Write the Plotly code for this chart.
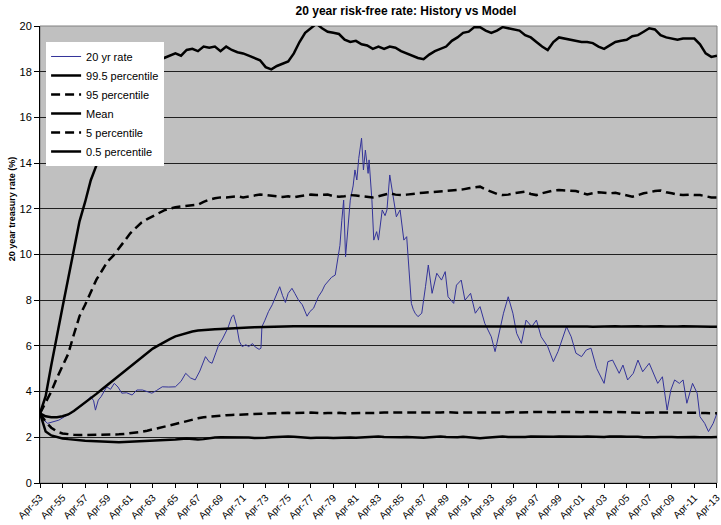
import plotly.graph_objects as go

# 20 yr treasury rate (month, %)
rate_dates = [
    "1953-04", "1953-07", "1953-12", "1954-07", "1954-12", "1955-06", "1956-01", "1956-06", "1956-11", "1957-04",
    "1957-10", "1958-01", "1958-03", "1958-06", "1958-09", "1959-03", "1959-07", "1959-11", "1960-03", "1960-07",
    "1960-12", "1961-06", "1961-11", "1962-05", "1962-10", "1963-03", "1963-08", "1964-02", "1964-09", "1965-04",
    "1965-10", "1966-03", "1966-08", "1967-01", "1967-06", "1967-12", "1968-04", "1968-07", "1968-11", "1969-02",
    "1969-06", "1969-09", "1969-12", "1970-04", "1970-06", "1970-09", "1970-12", "1971-03", "1971-07", "1971-10",
    "1972-02", "1972-05", "1972-09", "1972-11", "1972-12", "1973-03", "1973-07", "1973-11", "1974-03", "1974-07",
    "1974-10", "1975-01", "1975-04", "1975-08", "1975-11", "1976-03", "1976-07", "1976-12", "1977-03", "1977-07",
    "1977-12", "1978-04", "1978-07", "1978-10", "1979-02", "1979-06", "1979-09", "1979-11", "1980-01", "1980-03",
    "1980-05", "1980-07", "1980-10", "1981-01", "1981-03", "1981-05", "1981-07", "1981-10", "1981-12", "1982-02",
    "1982-05", "1982-06", "1982-09", "1982-11", "1983-02", "1983-04", "1983-08", "1983-11", "1984-01", "1984-04",
    "1984-08", "1984-11", "1985-03", "1985-07", "1985-10", "1985-12", "1986-03", "1986-05", "1986-07", "1986-10",
    "1987-02", "1987-06", "1987-09", "1988-01", "1988-06", "1988-11", "1989-03", "1989-06", "1989-12", "1990-03",
    "1990-08", "1990-12", "1991-06", "1991-11", "1992-04", "1992-09", "1993-04", "1993-08", "1993-11", "1994-05",
    "1994-10", "1995-03", "1995-07", "1995-12", "1996-05", "1996-11", "1997-04", "1997-09", "1998-04", "1998-10",
    "1999-03", "1999-07", "1999-12", "2000-05", "2000-10", "2001-04", "2001-09", "2002-02", "2002-08", "2003-04",
    "2003-08", "2004-01", "2004-08", "2004-12", "2005-05", "2005-11", "2006-04", "2006-09", "2007-04", "2008-01",
    "2008-06", "2008-11", "2009-03", "2009-07", "2009-12", "2010-04", "2010-08", "2011-02", "2011-07", "2011-10",
    "2012-03", "2012-07", "2012-12", "2013-04",
]
rate_values = [
    3.05, 2.8, 2.61, 2.68, 2.75, 2.9, 3.05, 3.2, 3.34, 3.5,
    3.78, 3.6, 3.19, 3.63, 3.78, 4.21, 4.1, 4.36, 4.2, 3.93,
    3.95, 3.85, 4.07, 4.07, 4.0, 3.93, 4.05, 4.21, 4.2, 4.21,
    4.45, 4.8, 4.6, 4.51, 4.9, 5.53, 5.3, 5.24, 5.7, 6.05,
    6.3, 6.55, 6.8, 7.28, 7.35, 6.9, 6.2, 5.97, 6.05, 5.97,
    6.1, 5.95, 5.85, 5.9, 6.84, 7.1, 7.5, 7.8, 8.2, 8.59,
    8.2, 7.9, 8.3, 8.52, 8.3, 8.0, 7.8, 7.3, 7.5, 7.65,
    8.15, 8.4, 8.66, 8.8, 9.0, 9.1, 10.0, 10.4, 11.5, 12.38,
    9.9, 11.0, 12.38, 13.0, 13.7, 13.26, 14.2, 15.09, 13.7, 14.57,
    13.55, 14.14, 12.38, 10.63, 11.0, 10.63, 11.95, 11.7, 11.95, 13.48,
    12.53, 11.65, 11.95, 10.63, 10.78, 9.61, 7.86, 7.6, 7.43, 7.28,
    7.43, 8.59, 9.54, 8.3, 9.18, 8.88, 9.25, 8.15, 7.86, 8.66,
    8.88, 8.0, 8.3, 7.43, 7.72, 6.99, 6.4, 5.75, 6.33, 7.43,
    8.15, 7.43, 6.55, 6.11, 7.13, 6.84, 7.13, 6.4, 5.97, 5.31,
    5.75, 6.26, 6.84, 6.4, 5.68, 5.53, 5.82, 5.9, 5.02, 4.36,
    5.31, 5.38, 4.8, 5.16, 4.51, 4.8, 5.38, 4.87, 5.24, 4.36,
    4.65, 3.19, 4.07, 4.51, 4.36, 4.51, 3.49, 4.36, 3.93, 2.9,
    2.61, 2.25, 2.61, 3.05,
]

# model percentiles, every six months
model_dates = [
    "1953-04", "1953-10", "1954-04", "1954-10", "1955-04", "1955-10", "1956-04", "1956-10", "1957-04", "1957-10",
    "1958-04", "1958-10", "1959-04", "1959-10", "1960-04", "1960-10", "1961-04", "1961-10", "1962-04", "1962-10",
    "1963-04", "1963-10", "1964-04", "1964-10", "1965-04", "1965-10", "1966-04", "1966-10", "1967-04", "1967-10",
    "1968-04", "1968-10", "1969-04", "1969-10", "1970-04", "1970-10", "1971-04", "1971-10", "1972-04", "1972-10",
    "1973-04", "1973-10", "1974-04", "1974-10", "1975-04", "1975-10", "1976-04", "1976-10", "1977-04", "1977-10",
    "1978-04", "1978-10", "1979-04", "1979-10", "1980-04", "1980-10", "1981-04", "1981-10", "1982-04", "1982-10",
    "1983-04", "1983-10", "1984-04", "1984-10", "1985-04", "1985-10", "1986-04", "1986-10", "1987-04", "1987-10",
    "1988-04", "1988-10", "1989-04", "1989-10", "1990-04", "1990-10", "1991-04", "1991-10", "1992-04", "1992-10",
    "1993-04", "1993-10", "1994-04", "1994-10", "1995-04", "1995-10", "1996-04", "1996-10", "1997-04", "1997-10",
    "1998-04", "1998-10", "1999-04", "1999-10", "2000-04", "2000-10", "2001-04", "2001-10", "2002-04", "2002-10",
    "2003-04", "2003-10", "2004-04", "2004-10", "2005-04", "2005-10", "2006-04", "2006-10", "2007-04", "2007-10",
    "2008-04", "2008-10", "2009-04", "2009-10", "2010-04", "2010-10", "2011-04", "2011-10", "2012-04", "2012-10",
    "2013-04",
]
p995 = [
    3.05, 3.8, 5.15, 6.5, 7.7, 8.95, 10.2, 11.45, 12.3, 13.25,
    13.9, 15.0, 16.2, 17.2, 17.9, 18.3, 18.5, 18.4, 18.2, 18.3,
    18.35, 18.45, 18.6, 18.7, 18.8, 18.7, 18.95, 19.0, 18.9, 19.1,
    19.05, 19.1, 18.9, 19.1, 18.95, 18.85, 18.8, 18.7, 18.6, 18.5,
    18.2, 18.1, 18.25, 18.35, 18.45, 18.8, 19.3, 19.7, 19.9, 20.1,
    19.9, 19.75, 19.7, 19.65, 19.4, 19.3, 19.35, 19.2, 19.15, 19.0,
    19.1, 19.0, 19.1, 19.05, 18.9, 18.8, 18.7, 18.6, 18.55, 18.75,
    18.9, 19.0, 19.1, 19.35, 19.5, 19.7, 19.75, 19.95, 19.95, 19.8,
    19.7, 19.8, 19.95, 19.9, 19.85, 19.8, 19.6, 19.5, 19.3, 19.1,
    18.95, 19.3, 19.5, 19.45, 19.4, 19.35, 19.3, 19.3, 19.25, 19.1,
    19.0, 19.15, 19.3, 19.35, 19.4, 19.55, 19.6, 19.75, 19.9, 19.85,
    19.6, 19.5, 19.45, 19.4, 19.45, 19.45, 19.45, 19.2, 18.8, 18.65,
    18.7,
]
p95 = [
    3.05, 3.5, 4.0, 4.6, 5.1, 5.65, 6.5, 7.3, 7.8, 8.35,
    8.9, 9.3, 9.7, 9.95, 10.25, 10.6, 10.93, 11.15, 11.4, 11.55,
    11.67, 11.8, 11.93, 12.0, 12.07, 12.1, 12.12, 12.15, 12.18, 12.3,
    12.4, 12.46, 12.5, 12.5, 12.52, 12.55, 12.5, 12.55, 12.6, 12.62,
    12.6, 12.58, 12.55, 12.52, 12.55, 12.5, 12.55, 12.6, 12.62, 12.6,
    12.6, 12.62, 12.55, 12.53, 12.55, 12.6, 12.58, 12.55, 12.53, 12.5,
    12.55, 12.6, 12.68, 12.62, 12.6, 12.62, 12.66, 12.68, 12.7, 12.72,
    12.72, 12.75, 12.78, 12.8, 12.82, 12.85, 12.9, 12.95, 12.97, 12.85,
    12.75, 12.65, 12.6, 12.62, 12.68, 12.72, 12.75, 12.65, 12.6, 12.68,
    12.75, 12.8, 12.82, 12.8, 12.8, 12.78, 12.7, 12.63, 12.68, 12.72,
    12.7, 12.68, 12.7, 12.65, 12.58, 12.53, 12.6, 12.68, 12.72, 12.78,
    12.8, 12.72, 12.68, 12.62, 12.6, 12.62, 12.6, 12.6, 12.55, 12.5,
    12.5,
]
mean = [
    3.05, 2.92, 2.88, 2.88, 2.92, 3.0, 3.15, 3.33, 3.52, 3.7,
    3.9, 4.1, 4.3, 4.5, 4.7, 4.9, 5.1, 5.3, 5.5, 5.7,
    5.88, 6.02, 6.17, 6.3, 6.42, 6.5, 6.57, 6.63, 6.67, 6.7,
    6.72, 6.73, 6.74, 6.76, 6.77, 6.78, 6.8, 6.81, 6.82, 6.83,
    6.83, 6.84, 6.84, 6.85, 6.85, 6.86, 6.86, 6.86, 6.87, 6.87,
    6.88, 6.87, 6.86, 6.87, 6.88, 6.87, 6.86, 6.87, 6.86, 6.87,
    6.86, 6.87, 6.88, 6.87, 6.86, 6.85, 6.86, 6.87, 6.88, 6.87,
    6.86, 6.87, 6.87, 6.88, 6.87, 6.86, 6.87, 6.86, 6.85, 6.86,
    6.87, 6.87, 6.86, 6.87, 6.88, 6.87, 6.86, 6.85, 6.86, 6.86,
    6.87, 6.88, 6.87, 6.86, 6.86, 6.87, 6.86, 6.85, 6.84, 6.85,
    6.86, 6.87, 6.86, 6.85, 6.86, 6.87, 6.86, 6.85, 6.86, 6.85,
    6.86, 6.85, 6.84, 6.85, 6.86, 6.85, 6.84, 6.85, 6.84, 6.84,
    6.84,
]
p5 = [
    3.05, 2.68, 2.42, 2.25, 2.17, 2.13, 2.11, 2.1, 2.1, 2.1,
    2.1, 2.1, 2.11, 2.12, 2.13, 2.15, 2.17, 2.2, 2.24, 2.29,
    2.34, 2.4, 2.45, 2.52, 2.58, 2.65, 2.72, 2.78, 2.83, 2.88,
    2.91, 2.94, 2.95, 2.97, 2.98, 2.99, 3.0, 3.02, 3.03, 3.04,
    3.05, 3.04, 3.06, 3.05, 3.07, 3.06, 3.05, 3.07, 3.08, 3.06,
    3.05, 3.06, 3.08, 3.07, 3.05, 3.06, 3.08, 3.07, 3.06, 3.05,
    3.07, 3.08, 3.07, 3.06, 3.08, 3.09, 3.08, 3.07, 3.08, 3.09,
    3.08, 3.09, 3.1, 3.08, 3.07, 3.08, 3.09, 3.1, 3.09, 3.08,
    3.1, 3.09, 3.08, 3.1, 3.11, 3.09, 3.08, 3.1, 3.11, 3.1,
    3.09, 3.1, 3.11, 3.1, 3.09, 3.08, 3.1, 3.11, 3.1, 3.09,
    3.08, 3.1, 3.11, 3.1, 3.09, 3.1, 3.08, 3.07, 3.09, 3.1,
    3.09, 3.08, 3.09, 3.1, 3.08, 3.07, 3.08, 3.07, 3.06, 3.05,
    3.05,
]
p05 = [
    3.05, 2.25, 2.08, 2.0, 1.95, 1.92, 1.89, 1.87, 1.85, 1.84,
    1.82, 1.81, 1.8, 1.79, 1.78, 1.79, 1.8, 1.82, 1.83, 1.83,
    1.84, 1.84, 1.86, 1.88, 1.9, 1.93, 1.95, 1.93, 1.9, 1.92,
    1.96, 1.99, 2.0, 2.0, 1.99, 2.0, 2.02, 1.99, 1.97, 1.96,
    1.98, 2.0, 2.02, 2.01, 2.03, 2.02, 2.0, 1.98, 1.97, 1.98,
    1.99, 1.98, 1.97, 1.98, 2.0, 1.99, 1.98, 2.0, 2.02, 2.04,
    2.03, 2.01, 2.0, 1.99, 2.0, 2.01, 1.99, 1.97, 1.98, 2.0,
    2.02, 2.03, 2.01, 1.99, 2.0, 2.02, 2.0, 1.98, 1.96, 1.98,
    2.0, 2.02, 2.03, 2.01, 2.0, 1.99, 2.01, 2.03, 2.02, 2.01,
    2.0, 2.02, 2.04, 2.03, 2.02, 2.01, 2.02, 2.03, 2.02, 2.0,
    2.01, 2.03, 2.04, 2.03, 2.02, 2.03, 2.02, 2.0, 1.99, 2.0,
    2.01, 2.02, 2.01, 2.0, 2.01, 2.02, 2.01, 2.0, 1.99, 2.0,
    2.01,
]

FONT = "Liberation Sans, Arial, sans-serif"

fig = go.Figure()

fig.add_trace(go.Scatter(
    x=rate_dates, y=rate_values, name="20 yr rate", mode="lines",
    line=dict(color="#333399", width=1)
))

model = [
    ("99.5 percentile", p995, "solid"),
    ("95 percentile", p95, "9px,5px"),
    ("Mean", mean, "solid"),
    ("5 percentile", p5, "9px,5px"),
    ("0.5 percentile", p05, "solid"),
]
for name, vals, dash in model:
    fig.add_trace(go.Scatter(
        x=model_dates, y=vals, name=name, mode="lines",
        line=dict(color="black", width=2.5, dash=dash)
    ))

# y axis title, placed by hand like the excel one
fig.add_annotation(
    text="<b>20 year treasury rate (%)</b>", textangle=-90,
    xref="paper", yref="paper", x=-0.042, y=0.6, xanchor="center", yanchor="middle",
    showarrow=False, font=dict(family=FONT, size=9, color="black")
)

# grey border round the plot area
fig.add_shape(type="rect", xref="paper", yref="paper", x0=0, y0=0, x1=1, y1=1,
              line=dict(color="#808080", width=1), layer="below")

fig.update_layout(
    width=721, height=525,
    margin=dict(l=40, r=4, t=26, b=42),
    paper_bgcolor="white",
    plot_bgcolor="#C0C0C0",
    font=dict(family=FONT, size=11, color="black"),
    title=dict(text="<b>20 year risk-free rate: History vs Model</b>",
               x=0.563, xanchor="center", y=0.979, yanchor="middle",
               font=dict(family=FONT, size=12, color="black")),
    showlegend=True,
    legend=dict(x=0.009, y=0.965, xanchor="left", yanchor="top",
                bgcolor="white", borderwidth=0, itemwidth=30,
                font=dict(family=FONT, size=11, color="black"),
                tracegroupgap=0),
    xaxis=dict(
        type="date", range=["1953-04-01", "2013-04-03"],
        tick0="1953-04-01", dtick="M24", tickformat="%b-%y", tickangle=-45,
        ticks="outside", ticklen=4, tickcolor="black",
        ticklabeloverflow="allow",
        showgrid=False, showline=True, linecolor="black", linewidth=1,
        tickfont=dict(family=FONT, size=10, color="black"),
        automargin=False
    ),
    yaxis=dict(
        range=[0, 20], dtick=2,
        ticks="outside", ticklen=5, tickcolor="black",
        showgrid=True, gridcolor="#202020", gridwidth=1,
        showline=True, linecolor="black", linewidth=1, zeroline=False,
        tickfont=dict(family=FONT, size=11, color="black"),
        automargin=False
    ),
)

# page has a default 8px body margin; drop it so the chart sits at 0,0
fig.write_html("out.html", config={"displayModeBar": False},
               post_script="document.body.style.margin='0';")
